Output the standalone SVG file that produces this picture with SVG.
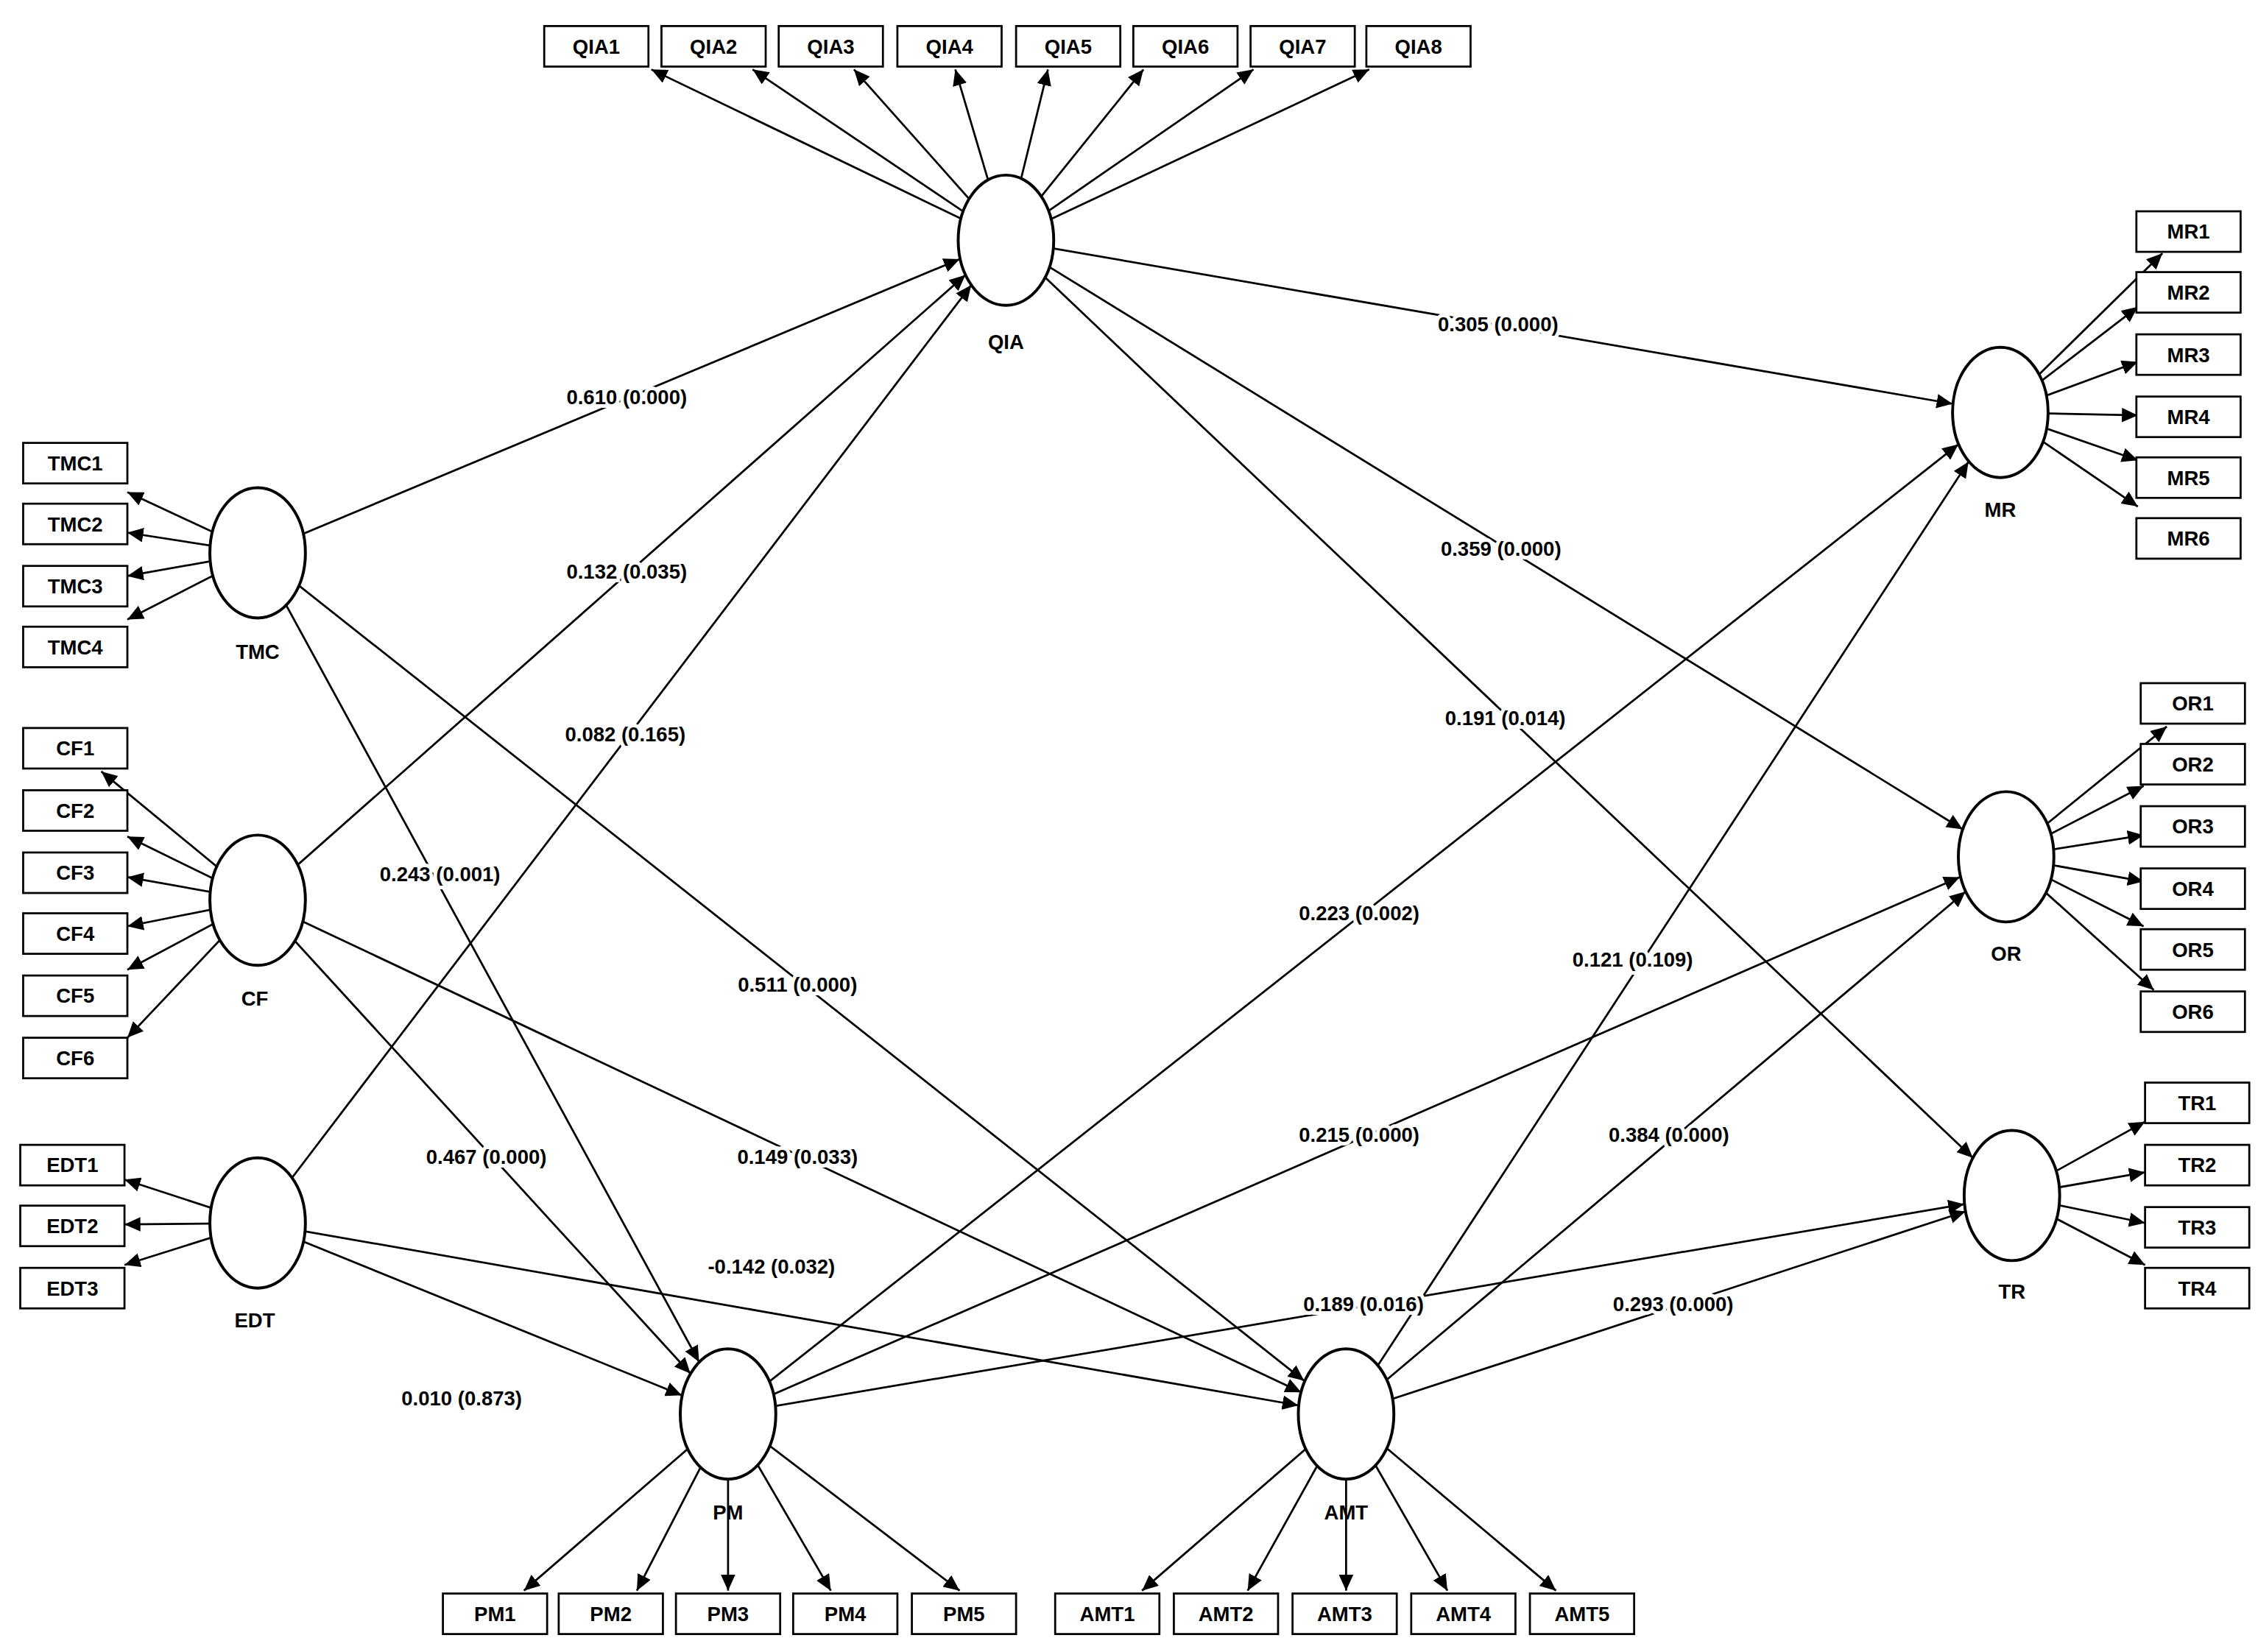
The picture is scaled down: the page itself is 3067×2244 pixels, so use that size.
<svg xmlns="http://www.w3.org/2000/svg" width="3067" height="2244" viewBox="0 0 3067 2244">
<style>
.e{fill:none;stroke:#000;stroke-width:1.4;marker-end:url(#a)}
.n{fill:#fff;stroke:#000;stroke-width:2}
.b{fill:#fff;stroke:#000;stroke-width:1.4}
text{font-family:"Liberation Sans Narrow","Liberation Sans",sans-serif;font-size:14px;font-weight:bold;text-anchor:middle;fill:#000}
.l{paint-order:stroke;stroke:#fff;stroke-width:5px}
</style>
<defs><marker id="a" markerUnits="userSpaceOnUse" markerWidth="12" markerHeight="10" refX="11" refY="5" orient="auto"><path d="M0,0 L11,5 L0,10 Z" fill="#000"/></marker></defs>
<rect width="3067" height="2244" fill="#fff"/>
<g transform="scale(1.966)">
<g id="connectors">
<path class="e" d="M695,166 L450,48"/><path class="e" d="M695,166 L520,48"/><path class="e" d="M695,166 L590,48"/><path class="e" d="M695,166 L660,48"/><path class="e" d="M695,166 L724,48"/><path class="e" d="M695,166 L790,48"/><path class="e" d="M695,166 L866,48"/><path class="e" d="M695,166 L946,48"/>
<path class="e" d="M178,382 L88,340"/><path class="e" d="M178,382 L88,368"/><path class="e" d="M178,382 L88,398"/><path class="e" d="M178,382 L88,428"/>
<path class="e" d="M178,622 L70,533"/><path class="e" d="M178,622 L88,578"/><path class="e" d="M178,622 L88,606"/><path class="e" d="M178,622 L88,640"/><path class="e" d="M178,622 L88,670"/><path class="e" d="M178,622 L88,717"/>
<path class="e" d="M178,845 L86,815"/><path class="e" d="M178,845 L86,846"/><path class="e" d="M178,845 L86,874"/>
<path class="e" d="M503,977 L362,1099"/><path class="e" d="M503,977 L440,1099"/><path class="e" d="M503,977 L503,1099"/><path class="e" d="M503,977 L574,1099"/><path class="e" d="M503,977 L663,1099"/>
<path class="e" d="M930,977 L789,1099"/><path class="e" d="M930,977 L862,1099"/><path class="e" d="M930,977 L930,1099"/><path class="e" d="M930,977 L1000,1099"/><path class="e" d="M930,977 L1075,1099"/>
<path class="e" d="M1382,285 L1494,175"/><path class="e" d="M1382,285 L1477,212"/><path class="e" d="M1382,285 L1477,250"/><path class="e" d="M1382,285 L1477,287"/><path class="e" d="M1382,285 L1477,318"/><path class="e" d="M1382,285 L1477,350"/>
<path class="e" d="M1386,592 L1497,502"/><path class="e" d="M1386,592 L1481,543"/><path class="e" d="M1386,592 L1481,577"/><path class="e" d="M1386,592 L1481,609"/><path class="e" d="M1386,592 L1481,640"/><path class="e" d="M1386,592 L1488,684"/>
<path class="e" d="M1390,826 L1482,775"/><path class="e" d="M1390,826 L1482,810"/><path class="e" d="M1390,826 L1482,845"/><path class="e" d="M1390,826 L1482,874"/>
<path class="e" d="M178,382 L663,179"/><path class="e" d="M178,622 L667,190"/><path class="e" d="M178,845 L671,197"/>
<path class="e" d="M178,382 L483,941"/><path class="e" d="M178,622 L477,949"/><path class="e" d="M178,845 L471,964"/>
<path class="e" d="M178,382 L901,954"/><path class="e" d="M178,622 L899,962"/><path class="e" d="M178,845 L897,971"/>
<path class="e" d="M695,166 L1349,279"/><path class="e" d="M503,977 L1353,307"/><path class="e" d="M930,977 L1360,319"/>
<path class="e" d="M695,166 L1356,573"/><path class="e" d="M503,977 L1354,606"/><path class="e" d="M930,977 L1358,616"/>
<path class="e" d="M695,166 L1363,800"/><path class="e" d="M503,977 L1357,832"/><path class="e" d="M930,977 L1358,837"/>
<text class="l" x="433" y="279">0.610 (0.000)</text>
<text class="l" x="433" y="400">0.132 (0.035)</text>
<text class="l" x="432" y="512">0.082 (0.165)</text>
<text class="l" x="304" y="609">0.243 (0.001)</text>
<text class="l" x="551" y="685">0.511 (0.000)</text>
<text class="l" x="336" y="804">0.467 (0.000)</text>
<text class="l" x="551" y="804">0.149 (0.033)</text>
<text class="l" x="533" y="880">-0.142 (0.032)</text>
<text class="l" x="319" y="971">0.010 (0.873)</text>
<text class="l" x="1035" y="229">0.305 (0.000)</text>
<text class="l" x="1037" y="384">0.359 (0.000)</text>
<text class="l" x="1040" y="501">0.191 (0.014)</text>
<text class="l" x="939" y="636">0.223 (0.002)</text>
<text class="l" x="1128" y="668">0.121 (0.109)</text>
<text class="l" x="939" y="789">0.215 (0.000)</text>
<text class="l" x="1153" y="789">0.384 (0.000)</text>
<text class="l" x="942" y="906">0.189 (0.016)</text>
<text class="l" x="1156" y="906">0.293 (0.000)</text>
</g>
<g id="QIA"><ellipse class="n" cx="695" cy="166" rx="33" ry="45"/><text x="695" y="241">QIA</text></g>
<g id="TMC"><ellipse class="n" cx="178" cy="382" rx="33" ry="45"/><text x="178" y="455">TMC</text></g>
<g id="CF"><ellipse class="n" cx="178" cy="622" rx="33" ry="45"/><text x="176" y="695">CF</text></g>
<g id="EDT"><ellipse class="n" cx="178" cy="845" rx="33" ry="45"/><text x="176" y="917">EDT</text></g>
<g id="PM"><ellipse class="n" cx="503" cy="977" rx="33" ry="45"/><text x="503" y="1050">PM</text></g>
<g id="AMT"><ellipse class="n" cx="930" cy="977" rx="33" ry="45"/><text x="930" y="1050">AMT</text></g>
<g id="MR"><ellipse class="n" cx="1382" cy="285" rx="33" ry="45"/><text x="1382" y="357">MR</text></g>
<g id="OR"><ellipse class="n" cx="1386" cy="592" rx="33" ry="45"/><text x="1386" y="664">OR</text></g>
<g id="TR"><ellipse class="n" cx="1390" cy="826" rx="33" ry="45"/><text x="1390" y="897">TR</text></g>
<g id="QIA1"><rect class="b" x="376" y="18" width="72" height="28"/><text x="412" y="37">QIA1</text></g>
<g id="QIA2"><rect class="b" x="457" y="18" width="72" height="28"/><text x="493" y="37">QIA2</text></g>
<g id="QIA3"><rect class="b" x="538" y="18" width="72" height="28"/><text x="574" y="37">QIA3</text></g>
<g id="QIA4"><rect class="b" x="620" y="18" width="72" height="28"/><text x="656" y="37">QIA4</text></g>
<g id="QIA5"><rect class="b" x="702" y="18" width="72" height="28"/><text x="738" y="37">QIA5</text></g>
<g id="QIA6"><rect class="b" x="783" y="18" width="72" height="28"/><text x="819" y="37">QIA6</text></g>
<g id="QIA7"><rect class="b" x="864" y="18" width="72" height="28"/><text x="900" y="37">QIA7</text></g>
<g id="QIA8"><rect class="b" x="944" y="18" width="72" height="28"/><text x="980" y="37">QIA8</text></g>
<g id="TMC1"><rect class="b" x="16" y="306" width="72" height="28"/><text x="52" y="325">TMC1</text></g>
<g id="TMC2"><rect class="b" x="16" y="348" width="72" height="28"/><text x="52" y="367">TMC2</text></g>
<g id="TMC3"><rect class="b" x="16" y="391" width="72" height="28"/><text x="52" y="410">TMC3</text></g>
<g id="TMC4"><rect class="b" x="16" y="433" width="72" height="28"/><text x="52" y="452">TMC4</text></g>
<g id="CF1"><rect class="b" x="16" y="503" width="72" height="28"/><text x="52" y="522">CF1</text></g>
<g id="CF2"><rect class="b" x="16" y="546" width="72" height="28"/><text x="52" y="565">CF2</text></g>
<g id="CF3"><rect class="b" x="16" y="589" width="72" height="28"/><text x="52" y="608">CF3</text></g>
<g id="CF4"><rect class="b" x="16" y="631" width="72" height="28"/><text x="52" y="650">CF4</text></g>
<g id="CF5"><rect class="b" x="16" y="674" width="72" height="28"/><text x="52" y="693">CF5</text></g>
<g id="CF6"><rect class="b" x="16" y="717" width="72" height="28"/><text x="52" y="736">CF6</text></g>
<g id="EDT1"><rect class="b" x="14" y="791" width="72" height="28"/><text x="50" y="810">EDT1</text></g>
<g id="EDT2"><rect class="b" x="14" y="833" width="72" height="28"/><text x="50" y="852">EDT2</text></g>
<g id="EDT3"><rect class="b" x="14" y="876" width="72" height="28"/><text x="50" y="895">EDT3</text></g>
<g id="PM1"><rect class="b" x="306" y="1101" width="72" height="28"/><text x="342" y="1120">PM1</text></g>
<g id="PM2"><rect class="b" x="386" y="1101" width="72" height="28"/><text x="422" y="1120">PM2</text></g>
<g id="PM3"><rect class="b" x="467" y="1101" width="72" height="28"/><text x="503" y="1120">PM3</text></g>
<g id="PM4"><rect class="b" x="548" y="1101" width="72" height="28"/><text x="584" y="1120">PM4</text></g>
<g id="PM5"><rect class="b" x="630" y="1101" width="72" height="28"/><text x="666" y="1120">PM5</text></g>
<g id="AMT1"><rect class="b" x="729" y="1101" width="72" height="28"/><text x="765" y="1120">AMT1</text></g>
<g id="AMT2"><rect class="b" x="811" y="1101" width="72" height="28"/><text x="847" y="1120">AMT2</text></g>
<g id="AMT3"><rect class="b" x="893" y="1101" width="72" height="28"/><text x="929" y="1120">AMT3</text></g>
<g id="AMT4"><rect class="b" x="975" y="1101" width="72" height="28"/><text x="1011" y="1120">AMT4</text></g>
<g id="AMT5"><rect class="b" x="1057" y="1101" width="72" height="28"/><text x="1093" y="1120">AMT5</text></g>
<g id="MR1"><rect class="b" x="1476" y="146" width="72" height="28"/><text x="1512" y="165">MR1</text></g>
<g id="MR2"><rect class="b" x="1476" y="188" width="72" height="28"/><text x="1512" y="207">MR2</text></g>
<g id="MR3"><rect class="b" x="1476" y="231" width="72" height="28"/><text x="1512" y="250">MR3</text></g>
<g id="MR4"><rect class="b" x="1476" y="274" width="72" height="28"/><text x="1512" y="293">MR4</text></g>
<g id="MR5"><rect class="b" x="1476" y="316" width="72" height="28"/><text x="1512" y="335">MR5</text></g>
<g id="MR6"><rect class="b" x="1476" y="358" width="72" height="28"/><text x="1512" y="377">MR6</text></g>
<g id="OR1"><rect class="b" x="1479" y="472" width="72" height="28"/><text x="1515" y="491">OR1</text></g>
<g id="OR2"><rect class="b" x="1479" y="514" width="72" height="28"/><text x="1515" y="533">OR2</text></g>
<g id="OR3"><rect class="b" x="1479" y="557" width="72" height="28"/><text x="1515" y="576">OR3</text></g>
<g id="OR4"><rect class="b" x="1479" y="600" width="72" height="28"/><text x="1515" y="619">OR4</text></g>
<g id="OR5"><rect class="b" x="1479" y="642" width="72" height="28"/><text x="1515" y="661">OR5</text></g>
<g id="OR6"><rect class="b" x="1479" y="685" width="72" height="28"/><text x="1515" y="704">OR6</text></g>
<g id="TR1"><rect class="b" x="1482" y="748" width="72" height="28"/><text x="1518" y="767">TR1</text></g>
<g id="TR2"><rect class="b" x="1482" y="791" width="72" height="28"/><text x="1518" y="810">TR2</text></g>
<g id="TR3"><rect class="b" x="1482" y="834" width="72" height="28"/><text x="1518" y="853">TR3</text></g>
<g id="TR4"><rect class="b" x="1482" y="876" width="72" height="28"/><text x="1518" y="895">TR4</text></g>
</g>
</svg>
